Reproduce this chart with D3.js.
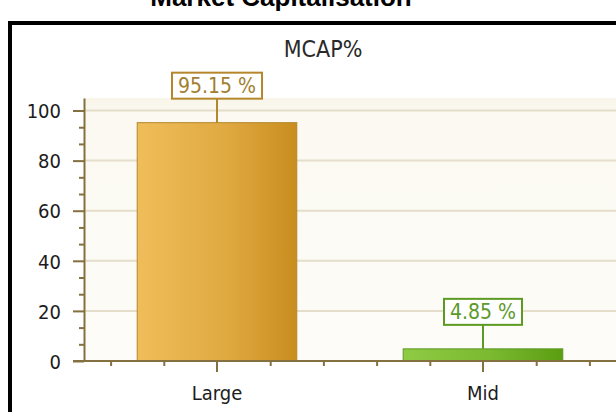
<!DOCTYPE html>
<html>
<head>
    <title>Market Capitalisation</title>
    <script src="https://d3js.org/d3.v7.min.js"></script>
    <style>
        body { margin: 0; background: #fff; overflow: hidden; }
        .tick-label { font-family: "DejaVu Sans Condensed", "Liberation Sans", sans-serif; font-size: 20px; fill: #1c1c1c; }
        .axis path, .axis line { stroke: #85703f; }
    </style>
</head>
<body>
    <svg width="616" height="412"></svg>
    <script>
        // chart values
        const categories = ["Large", "Mid"];
        const mcapValues = [95.15, 4.85];
        const valueLabels = ["95.15 %", "4.85 %"];
        const yTicks = [0, 20, 40, 60, 80, 100];
        const seriesName = "MCAP%";

        const colors = {
            Large: {light: "#efbd5a", dark: "#c98d1e", edge: "#b5872c", text: "#a2802f"},
            Mid: {light: "#8fcb44", dark: "#5b9e12", edge: "#5d9a22", text: "#5c9a2a"}
        };

        const svg = d3.select("svg");
        const plot = {left: 84, right: 616, top: 98, bottom: 361};

        const x = d3.scaleBand().domain(categories).range([plot.left, plot.right]).padding(0);
        const y = d3.scaleLinear().domain([0, 105]).range([plot.bottom, plot.top]);

        // gradients
        const defs = svg.append("defs");
        const bg = defs.append("linearGradient").attr("id", "bg")
            .attr("x1", 0).attr("y1", 0).attr("x2", 0).attr("y2", 1);
        bg.append("stop").attr("offset", "0").attr("stop-color", "#f9f5e9");
        bg.append("stop").attr("offset", "0.06").attr("stop-color", "#fbf9f1");
        bg.append("stop").attr("offset", "1").attr("stop-color", "#fdfcf8");

        categories.forEach(c => {
            const g = defs.append("linearGradient").attr("id", "grad-" + c)
                .attr("x1", 0).attr("y1", 0).attr("x2", 1).attr("y2", 0);
            g.append("stop").attr("offset", "0").attr("stop-color", colors[c].light);
            g.append("stop").attr("offset", "0.55").attr("stop-color", d3.interpolateRgb(colors[c].light, colors[c].dark)(0.4));
            g.append("stop").attr("offset", "1").attr("stop-color", colors[c].dark);
        });

        // page title (cut off at the top, as in the source page)
        svg.append("text")
            .attr("x", 281).attr("y", 6)
            .attr("text-anchor", "middle")
            .style("font-family", "'Liberation Sans', Arial, sans-serif")
            .style("font-weight", "bold")
            .style("font-size", "26px")
            .text("Market Capitalisation");

        // chart frame
        svg.append("rect")
            .attr("x", 10).attr("y", 23)
            .attr("width", 640).attr("height", 420)
            .attr("fill", "#fff")
            .attr("stroke", "#000")
            .attr("stroke-width", 4);

        // plot background
        svg.append("rect")
            .attr("x", plot.left).attr("y", plot.top)
            .attr("width", plot.right - plot.left).attr("height", plot.bottom - plot.top)
            .attr("fill", "url(#bg)");

        // series title
        svg.append("text")
            .attr("x", 323).attr("y", 57)
            .attr("text-anchor", "middle")
            .attr("class", "tick-label")
            .style("font-size", "23px")
            .style("fill", "#2a2a2a")
            .text(seriesName);

        // gridlines
        svg.append("g").selectAll("line")
            .data(yTicks.filter(d => d > 0))
            .enter().append("line")
            .attr("x1", plot.left).attr("x2", plot.right)
            .attr("y1", d => y(d)).attr("y2", d => y(d))
            .attr("stroke", "#e4ddca")
            .attr("stroke-width", 2);

        // bars
        const barW = x.bandwidth() * 0.6;
        svg.append("g").selectAll("rect")
            .data(categories)
            .enter().append("rect")
            .attr("x", d => x(d) + (x.bandwidth() - barW) / 2)
            .attr("y", (d, i) => y(mcapValues[i]))
            .attr("width", barW)
            .attr("height", (d, i) => y(0) - y(mcapValues[i]))
            .attr("fill", d => "url(#grad-" + d + ")")
            .attr("stroke", d => colors[d].edge)
            .attr("stroke-width", 1);

        // y axis: major + minor ticks
        const minorY = d3.range(0, 101, 20 / 3).filter(v => Math.abs(v / 20 - Math.round(v / 20)) > 0.01);
        svg.append("g").attr("class", "axis")
            .attr("transform", "translate(" + plot.left + ",0)")
            .call(d3.axisLeft(y).tickValues(minorY).tickSize(5).tickFormat(""))
            .call(g => g.select(".domain").remove())
            .selectAll("line").attr("stroke-width", 2);

        const yAxis = svg.append("g").attr("class", "axis")
            .attr("transform", "translate(" + plot.left + ",0)")
            .call(d3.axisLeft(y).tickValues(yTicks).tickSize(11).tickSizeOuter(0).tickPadding(12));
        yAxis.select(".domain").attr("stroke-width", 2);
        yAxis.selectAll("line").attr("stroke-width", 2);
        yAxis.selectAll("text").attr("class", "tick-label").attr("dy", "0.36em");

        // x axis: category ticks + minor ticks inside bands
        const minorX = [];
        categories.forEach(c => [0.1, 0.3, 0.7, 0.9].forEach(f => minorX.push(x(c) + f * x.bandwidth())));
        const xMinor = d3.scaleLinear().domain([0, 1]).range([0, 1]);
        svg.append("g").attr("class", "axis")
            .attr("transform", "translate(0," + plot.bottom + ")")
            .call(d3.axisBottom(xMinor).tickValues(minorX).tickSize(5).tickFormat(""))
            .call(g => g.select(".domain").remove())
            .selectAll("line").attr("stroke-width", 2);

        const xAxis = svg.append("g").attr("class", "axis")
            .attr("transform", "translate(0," + plot.bottom + ")")
            .call(d3.axisBottom(x).tickSize(11).tickSizeOuter(0).tickPadding(10));
        xAxis.select(".domain").attr("d", "M" + (plot.left - 11) + ",0H" + plot.right).attr("stroke-width", 2);
        xAxis.selectAll("line").attr("stroke-width", 2);
        xAxis.selectAll("text").attr("class", "tick-label").attr("dy", "0.9em");

        // value labels with connectors
        const boxH = 26, gap = 24;
        const labels = svg.append("g").selectAll("g")
            .data(categories)
            .enter().append("g");

        labels.append("line")
            .attr("x1", d => x(d) + x.bandwidth() / 2)
            .attr("x2", d => x(d) + x.bandwidth() / 2)
            .attr("y1", (d, i) => y(mcapValues[i]))
            .attr("y2", (d, i) => y(mcapValues[i]) - gap)
            .attr("stroke", d => colors[d].edge)
            .attr("stroke-width", 2);

        labels.each(function(d, i) {
            const g = d3.select(this);
            const cx = x(d) + x.bandwidth() / 2;
            const bottom = y(mcapValues[i]) - gap;
            const t = g.append("text")
                .attr("class", "tick-label")
                .attr("x", cx).attr("y", bottom - boxH / 2)
                .attr("dy", "0.36em")
                .attr("text-anchor", "middle")
                .style("font-size", "21px")
                .style("fill", colors[d].text)
                .text(valueLabels[i]);
            const w = t.node().getComputedTextLength() + 12;
            g.insert("rect", "text")
                .attr("x", cx - w / 2).attr("y", bottom - boxH)
                .attr("width", w).attr("height", boxH)
                .attr("fill", "#fff")
                .attr("stroke", colors[d].edge)
                .attr("stroke-width", 2);
        });
    </script>
</body>
</html>
